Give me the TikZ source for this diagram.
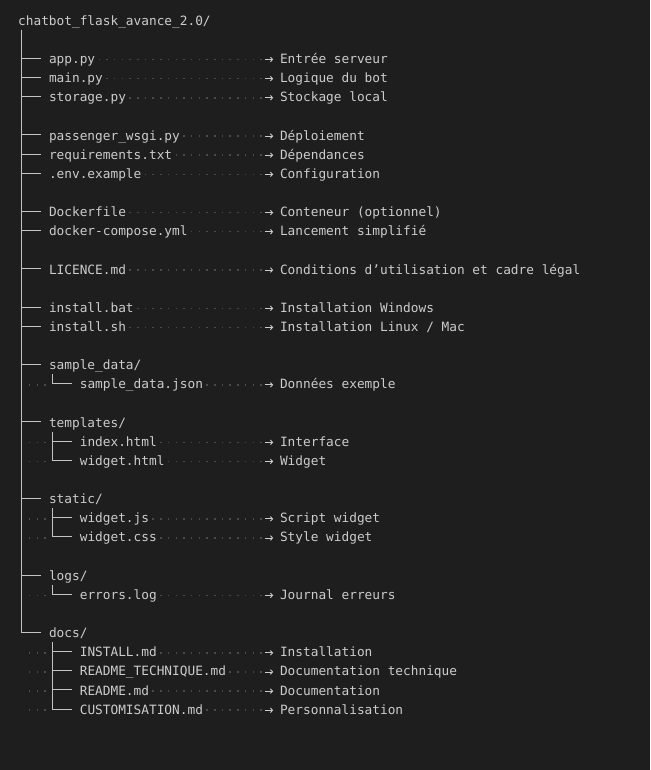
\documentclass[tikz,border=0pt]{standalone}
\usepackage{fontspec}
\usepackage{xcolor}
\usepackage{tikz}
\usetikzlibrary{arrows.meta}
\usetikzlibrary{positioning}
\newfontfamily\codefont{DejaVu Sans Mono}
\definecolor{fond}{HTML}{1E1E1E}
\definecolor{texte}{HTML}{CCCCCC}
\definecolor{trait}{HTML}{C4C4C4}
\definecolor{espace}{HTML}{4A4A4A}

\begin{document}
\begin{tikzpicture}[x=1pt, y=-1pt,
    fichier/.style={anchor=west, inner sep=0pt, text height=10.4pt, text depth=0pt,
        text=texte, font=\codefont\fontsize{12.79}{15}\selectfont},
    arbre/.style={draw=trait, line width=0.9pt},
    points/.style={draw=espace, line width=1.5pt, dash pattern=on 1.5pt off 6.2pt, dash phase=4.6pt},
    fleche/.style={draw=texte, line width=0.9pt, -{Straight Barb[length=2.2pt,width=4.6pt]}}]

    % Fond
    \fill[fond] (0,0) rectangle (650,770);
    \useasboundingbox (0,0) rectangle (650,770);

    % Racine
    \node[fichier] (racine) at (18,20.00) {chatbot\_flask\_avance\_2.0/};

    % Fichiers principaux
    \node[fichier] (app) at (48.8,58.28) {app.py};
    \node[fichier] (main) at (48.8,77.42) {main.py};
    \node[fichier] (storage) at (48.8,96.56) {storage.py};
    \node[fichier] (passenger) at (48.8,134.84) {passenger\_wsgi.py};
    \node[fichier] (requirements) at (48.8,153.98) {requirements.txt};
    \node[fichier] (env) at (48.8,173.12) {.env.example};
    \node[fichier] (dockerfile) at (48.8,211.40) {Dockerfile};
    \node[fichier] (compose) at (48.8,230.54) {docker-compose.yml};
    \node[fichier] (licence) at (48.8,268.82) {LICENCE.md};
    \node[fichier] (installbat) at (48.8,307.10) {install.bat};
    \node[fichier] (installsh) at (48.8,326.24) {install.sh};

    % Dossiers
    \node[fichier] (sampledir) at (48.8,364.52) {sample\_data/};
    \node[fichier] (samplejson) at (79.6,383.66) {sample\_data.json};
    \node[fichier] (templates) at (48.8,421.94) {templates/};
    \node[fichier] (index) at (79.6,441.08) {index.html};
    \node[fichier] (widgethtml) at (79.6,460.22) {widget.html};
    \node[fichier] (static) at (48.8,498.50) {static/};
    \node[fichier] (widgetjs) at (79.6,517.64) {widget.js};
    \node[fichier] (widgetcss) at (79.6,536.78) {widget.css};
    \node[fichier] (logs) at (48.8,575.06) {logs/};
    \node[fichier] (errors) at (79.6,594.20) {errors.log};
    \node[fichier] (docs) at (48.8,632.48) {docs/};
    \node[fichier] (install) at (79.6,651.62) {INSTALL.md};
    \node[fichier] (technique) at (79.6,670.76) {README\_TECHNIQUE.md};
    \node[fichier] (readme) at (79.6,689.90) {README.md};
    \node[fichier] (custom) at (79.6,709.04) {CUSTOMISATION.md};

    % Descriptions
    \node[fichier] (app-d) at (279.8,58.28) {Entrée serveur};
    \node[fichier] (main-d) at (279.8,77.42) {Logique du bot};
    \node[fichier] (storage-d) at (279.8,96.56) {Stockage local};
    \node[fichier] (passenger-d) at (279.8,134.84) {Déploiement};
    \node[fichier] (requirements-d) at (279.8,153.98) {Dépendances};
    \node[fichier] (env-d) at (279.8,173.12) {Configuration};
    \node[fichier] (dockerfile-d) at (279.8,211.40) {Conteneur (optionnel)};
    \node[fichier] (compose-d) at (279.8,230.54) {Lancement simplifié};
    \node[fichier] (licence-d) at (279.8,268.82) {Conditions d’utilisation et cadre légal};
    \node[fichier] (installbat-d) at (279.8,307.10) {Installation Windows};
    \node[fichier] (installsh-d) at (279.8,326.24) {Installation Linux / Mac};
    \node[fichier] (samplejson-d) at (279.8,383.66) {Données exemple};
    \node[fichier] (index-d) at (279.8,441.08) {Interface};
    \node[fichier] (widgethtml-d) at (279.8,460.22) {Widget};
    \node[fichier] (widgetjs-d) at (279.8,517.64) {Script widget};
    \node[fichier] (widgetcss-d) at (279.8,536.78) {Style widget};
    \node[fichier] (errors-d) at (279.8,594.20) {Journal erreurs};
    \node[fichier] (install-d) at (279.8,651.62) {Installation};
    \node[fichier] (technique-d) at (279.8,670.76) {Documentation technique};
    \node[fichier] (readme-d) at (279.8,689.90) {Documentation};
    \node[fichier] (custom-d) at (279.8,709.04) {Personnalisation};

    % Tronc principal
    \draw[arbre] ([xshift=3.85pt,yshift=-9.57pt]racine.west) |- ([xshift=-7.7pt]docs.west);
    \foreach \f in {app,main,storage,passenger,requirements,env,dockerfile,compose,licence,installbat,installsh,sampledir,templates,static,logs}
        \draw[arbre] ([xshift=-7.7pt]\f.west) -- ++(-19.25pt,0);

    % Sous-dossiers
    \draw[arbre] ([xshift=3.85pt,yshift=-9.57pt]sampledir.west) |- ([xshift=-7.7pt]samplejson.west);
    \draw[arbre] ([xshift=3.85pt,yshift=-9.57pt]templates.west) |- ([xshift=-7.7pt]widgethtml.west);
    \draw[arbre] ([xshift=3.85pt,yshift=-9.57pt]static.west) |- ([xshift=-7.7pt]widgetcss.west);
    \draw[arbre] ([xshift=3.85pt,yshift=-9.57pt]logs.west) |- ([xshift=-7.7pt]errors.west);
    \draw[arbre] ([xshift=3.85pt,yshift=-9.57pt]docs.west) |- ([xshift=-7.7pt]custom.west);
    \foreach \f in {index,widgetjs,install,technique,readme}
        \draw[arbre] ([xshift=-7.7pt]\f.west) -- ++(-19.25pt,0);

    % Espaces visibles (indentation)
    \foreach \y in {383.66,441.08,460.22,517.64,536.78,594.20,651.62,670.76,689.90,709.04}
        \foreach \x in {29.55,37.25,44.95}
            \fill[espace] (\x-0.75,\y+0.45) rectangle (\x+0.75,\y+1.95);

    % Pointillés et flèches vers les descriptions
    \foreach \f in {app,main,storage,passenger,requirements,env,dockerfile,compose,licence,installbat,installsh,samplejson,index,widgethtml,widgetjs,widgetcss,errors,install,technique,readme,custom}
    {
        \draw[points] ([yshift=-1.2pt]\f.east) -- ([xshift=-15.4pt,yshift=-1.2pt]\f-d.west);
        \draw[fleche] ([xshift=-14.8pt,yshift=-1.2pt]\f-d.west) -- ([xshift=-6.6pt,yshift=-1.2pt]\f-d.west);
    }
\end{tikzpicture}
\end{document}
